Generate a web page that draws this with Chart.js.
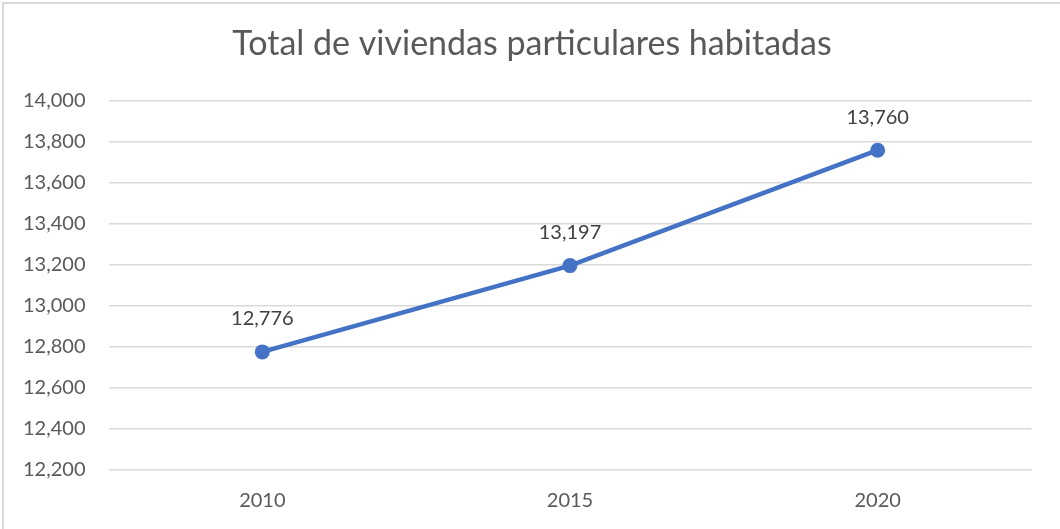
<!DOCTYPE html>
<html>
<head>
<meta charset="utf-8">
<script src="https://cdn.jsdelivr.net/npm/chart.js@4.4.1/dist/chart.umd.min.js"></script>
<style>
  html, body { margin: 0; padding: 0; background: #ffffff; }
  #wrap { position: relative; width: 1060px; height: 529px; }
</style>
</head>
<body>
<div id="wrap"><canvas id="c" width="1060" height="529"></canvas></div>
<script>
const title = "Total de viviendas particulares habitadas";
const categories = ["2010", "2015", "2020"];
const viviendas = [12776, 13197, 13760];
const yMin = 12200;
const yMax = 14000;
const yStep = 200;

const FONT = "Lato, Carlito, Calibri, 'Liberation Sans', sans-serif";

const framePlugin = {
  id: 'frame',
  beforeDraw(chart) {
    const ctx = chart.ctx;
    ctx.save();
    ctx.fillStyle = '#d9d9d9';
    ctx.fillRect(2, 2, chart.width - 2, 2);
    ctx.fillRect(2, 2, 2, chart.height - 2);
    ctx.restore();
  },
  afterDraw(chart) {
    const ctx = chart.ctx;
    ctx.save();
    ctx.fillStyle = '#595959';
    ctx.font = "34px " + FONT;
    ctx.textAlign = 'center';
    ctx.textBaseline = 'alphabetic';
    ctx.fillText(title, 532, 54.5);
    // data labels
    const meta = chart.getDatasetMeta(0);
    ctx.fillStyle = '#404040';
    ctx.font = "20px " + FONT;
    ctx.textBaseline = 'middle';
    meta.data.forEach((pt, i) => {
      const v = chart.data.datasets[0].data[i];
      ctx.fillText(v.toLocaleString('en-US'), pt.x, pt.y - 33);
    });
    ctx.restore();
  }
};

new Chart(document.getElementById('c'), {
  type: 'line',
  data: {
    labels: categories,
    datasets: [{
      data: viviendas,
      borderColor: '#4472C4',
      backgroundColor: '#4472C4',
      borderWidth: 4.5,
      pointRadius: 7.5,
      pointHoverRadius: 7.5,
      pointBackgroundColor: '#4472C4',
      pointBorderWidth: 0,
      tension: 0,
      fill: false
    }]
  },
  options: {
    responsive: false,
    animation: false,
    devicePixelRatio: 1,
    layout: { padding: { top: 101, right: 28.5, bottom: 0, left: 0 } },
    plugins: {
      legend: { display: false },
      title: { display: false },
      tooltip: { enabled: false }
    },
    scales: {
      x: {
        offset: true,
        grid: { display: false, drawTicks: false },
        border: { display: false },
        ticks: { color: '#595959', font: { family: FONT, size: 20 }, padding: 19 },
        afterFit(scale) { scale.height = 59; }
      },
      y: {
        min: yMin,
        max: yMax,
        grid: { color: '#d9d9d9', lineWidth: 1.5, drawTicks: false },
        border: { display: false },
        ticks: {
          stepSize: yStep,
          color: '#595959',
          font: { family: FONT, size: 20 },
          padding: 23,
          callback: (v) => v.toLocaleString('en-US')
        },
        afterFit(scale) { scale.width = 108.5; }
      }
    }
  },
  plugins: [framePlugin]
});
</script>
</body>
</html>
